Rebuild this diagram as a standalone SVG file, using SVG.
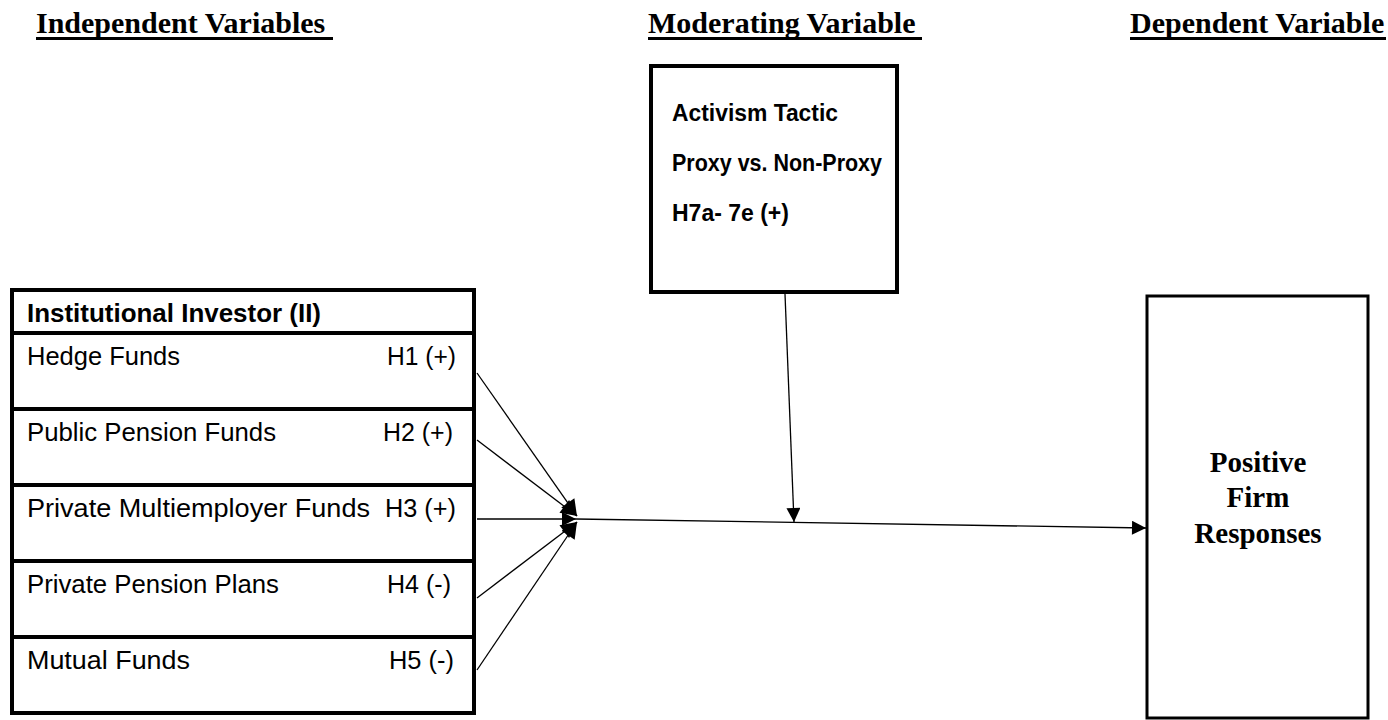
<svg xmlns="http://www.w3.org/2000/svg" width="1388" height="720" viewBox="0 0 1388 720">
  <style>
    .hdr { font-family: "Liberation Serif", "Times New Roman", serif; font-weight: bold; font-size: 30px; fill: #000; }
    .cal { font-family: "Liberation Sans", Arial, sans-serif; font-size: 26px; fill: #000; }
    .calb { font-family: "Liberation Sans", Arial, sans-serif; font-weight: bold; font-size: 23px; fill: #000; }
    .tnr { font-family: "Liberation Serif", "Times New Roman", serif; font-weight: bold; font-size: 29px; fill: #000; text-anchor: middle; }
    .box { fill: #fff; stroke: #000; stroke-width: 4; }
    .div { stroke: #000; stroke-width: 4; }
    .conn { stroke: #000; stroke-width: 1.3; fill: none; marker-end: url(#ah); }
    .conn2 { stroke: #000; stroke-width: 1.3; fill: none; marker-end: url(#ahb); }
  </style>
  <defs>
    <marker id="ah" viewBox="0 0 10 10" refX="10" refY="5" markerWidth="16" markerHeight="14" markerUnits="userSpaceOnUse" orient="auto">
      <path d="M0,0 L10,5 L0,10 Z" fill="#000"/>
    </marker>
    <marker id="ahb" viewBox="0 0 10 10" refX="10" refY="5" markerWidth="22" markerHeight="16" markerUnits="userSpaceOnUse" orient="auto">
      <path d="M0,0 L10,5 L0,10 Z" fill="#000"/>
    </marker>
  </defs>
  <rect width="1388" height="720" fill="#fff"/>

  <g id="headers">
    <text class="hdr" x="36" y="33">Independent Variables</text>
    <rect x="36" y="37" width="297" height="3" fill="#000"/>
    <text class="hdr" x="648" y="33">Moderating Variable</text>
    <rect x="648" y="37" width="274" height="3" fill="#000"/>
    <text class="hdr" x="1130" y="33">Dependent Variable</text>
    <rect x="1130" y="37" width="256" height="3" fill="#000"/>
  </g>

  <g id="moderator">
    <rect class="box" x="651" y="66" width="246" height="226"/>
    <text class="calb" x="672" y="121" textLength="166" lengthAdjust="spacingAndGlyphs">Activism Tactic</text>
    <text class="calb" x="672" y="171" textLength="210" lengthAdjust="spacingAndGlyphs">Proxy vs. Non-Proxy</text>
    <text class="calb" x="672" y="221">H7a- 7e (+)</text>
  </g>

  <g id="institutional-investor">
    <rect class="box" x="12" y="290" width="462" height="423"/>
    <line class="div" x1="12" y1="333" x2="474" y2="333"/>
    <line class="div" x1="12" y1="409" x2="474" y2="409"/>
    <line class="div" x1="12" y1="485" x2="474" y2="485"/>
    <line class="div" x1="12" y1="561" x2="474" y2="561"/>
    <line class="div" x1="12" y1="637" x2="474" y2="637"/>
    <text class="cal" x="27" y="322" font-weight="bold" textLength="294" lengthAdjust="spacingAndGlyphs">Institutional Investor (II)</text>
    <text class="cal" x="27" y="365" textLength="153" lengthAdjust="spacingAndGlyphs">Hedge Funds</text>
    <text class="cal" x="387" y="365" textLength="69" lengthAdjust="spacingAndGlyphs">H1 (+)</text>
    <text class="cal" x="27" y="441" textLength="249" lengthAdjust="spacingAndGlyphs">Public Pension Funds</text>
    <text class="cal" x="383" y="441" textLength="70" lengthAdjust="spacingAndGlyphs">H2 (+)</text>
    <text class="cal" x="27" y="517" textLength="343" lengthAdjust="spacingAndGlyphs">Private Multiemployer Funds</text>
    <text class="cal" x="385" y="517" textLength="71" lengthAdjust="spacingAndGlyphs">H3 (+)</text>
    <text class="cal" x="27" y="593" textLength="252" lengthAdjust="spacingAndGlyphs">Private Pension Plans</text>
    <text class="cal" x="387" y="593" textLength="64" lengthAdjust="spacingAndGlyphs">H4 (-)</text>
    <text class="cal" x="27" y="669" textLength="163" lengthAdjust="spacingAndGlyphs">Mutual Funds</text>
    <text class="cal" x="389" y="669" textLength="65" lengthAdjust="spacingAndGlyphs">H5 (-)</text>
  </g>

  <g id="firm-responses">
    <rect x="1147" y="296" width="221" height="422" fill="#fff" stroke="#000" stroke-width="3"/>
    <text class="tnr" x="1258" y="472">Positive</text>
    <text class="tnr" x="1258" y="507">Firm</text>
    <text class="tnr" x="1258" y="543">Responses</text>
  </g>

  <g id="connectors">
    <line class="conn2" x1="477" y1="373" x2="577" y2="516"/>
    <line class="conn2" x1="477" y1="440" x2="577" y2="516"/>
    <line class="conn" x1="477" y1="519" x2="576" y2="519"/>
    <line class="conn2" x1="477" y1="598" x2="577" y2="522"/>
    <line class="conn2" x1="477" y1="670" x2="577" y2="522"/>
    <line class="conn" x1="576" y1="519" x2="1146" y2="528"/>
    <line class="conn" x1="785" y1="294" x2="794" y2="522"/>
  </g>
</svg>
